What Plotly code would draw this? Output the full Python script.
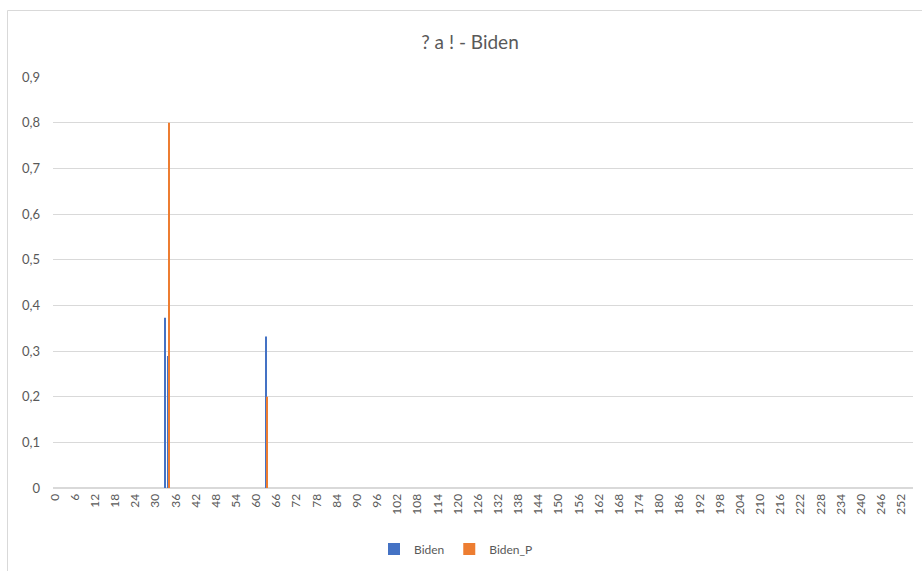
import plotly.graph_objects as go

# Data (categories 0..255; all other values are 0)
biden_x = [33, 34, 63]
biden_y = [0.373, 0.289, 0.332]
biden_p_x = [34, 63]
biden_p_y = [0.8, 0.2]

y_tick_vals = [0, 0.1, 0.2, 0.3, 0.4, 0.5, 0.6, 0.7, 0.8, 0.9]
y_tick_text = ["0", "0,1", "0,2", "0,3", "0,4", "0,5", "0,6", "0,7", "0,8", "0,9"]

W, H = 922, 571
L, R, T, B = 53, 913, 77, 488
pw, ph = R - L, B - T

FONT = "Lato"
GRAY = "#595959"
GRID = "#d9d9d9"

fig = go.Figure()
fig.add_trace(go.Bar(x=biden_x, y=biden_y, name="Biden", marker_color="#4472C4",
                     width=0.29, offset=-0.29, marker_line_width=0))
fig.add_trace(go.Bar(x=biden_p_x, y=biden_p_y, name="Biden_P", marker_color="#ED7D31",
                     width=0.29, offset=0.0, marker_line_width=0))


def px2x(p):
    return (p - L) / pw


def px2y(p):
    return (B - p) / ph


fig.update_layout(
    width=W, height=H,
    margin=dict(l=L, r=W - R, t=T, b=H - B, pad=0, autoexpand=False),
    paper_bgcolor="white", plot_bgcolor="white",
    barmode="overlay",
    title=dict(text="? a ! - Biden", x=470 / W, xanchor="center",
               y=1 - 42 / H, yanchor="middle",
               font=dict(family=FONT, size=19, color=GRAY)),
    font=dict(family=FONT, color=GRAY),
    showlegend=True,
    legend=dict(orientation="h", x=px2x(456), xanchor="center",
                y=px2y(549), yanchor="middle", font=dict(size=12, color=GRAY),
                itemwidth=30, traceorder="normal"),
    xaxis=dict(range=[-0.5, 255.5], tickmode="linear", tick0=0, dtick=6, tickangle=-90,
               showgrid=False, zeroline=False, showline=True, linecolor=GRID, linewidth=1,
               ticks="", tickfont=dict(size=12, color=GRAY, family=FONT)),
    yaxis=dict(range=[0, 0.9], tickvals=y_tick_vals, ticktext=y_tick_text,
               showgrid=True, gridcolor=GRID, gridwidth=1, zeroline=True, zerolinecolor=GRID,
               showline=False, ticks="", ticklabelstandoff=12,
               tickfont=dict(size=13, color=GRAY, family=FONT)),
    shapes=[dict(type="rect", xref="paper", yref="paper",
                 x0=px2x(7.5), x1=px2x(940), y0=px2y(590), y1=px2y(10.5),
                 line=dict(color=GRID, width=1), fillcolor="rgba(0,0,0,0)", layer="below")],
)

fig.write_html("out.html", config={"displayModeBar": False},
               post_script="document.body.style.margin='0';document.body.style.overflow='hidden';")
